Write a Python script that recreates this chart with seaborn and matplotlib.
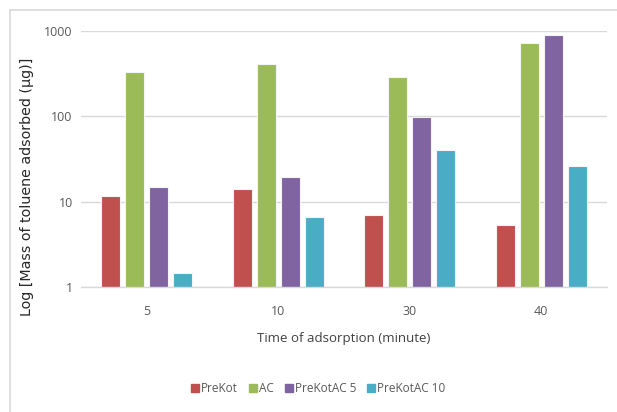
import matplotlib
matplotlib.use("Agg")
import matplotlib.pyplot as plt
from matplotlib import font_manager
from matplotlib.lines import Line2D
from matplotlib.ticker import FixedLocator, FixedFormatter, NullLocator
import seaborn as sns
import pandas as pd

# Adsorption times (minutes) and toluene mass adsorbed (µg) per adsorbent
times = ["5", "10", "30", "40"]
series = ["PreKot", "AC", "PreKotAC 5", "PreKotAC 10"]
prekot = [11.5, 14.0, 6.9, 5.4]
ac = [330, 405, 290, 730]
prekotac5 = [15.0, 19.5, 97, 900]
prekotac10 = [1.46, 6.6, 40, 26.5]
y_ticks = [1, 10, 100, 1000]
y_tick_labels = ["1", "10", "100", "1000"]

colors = ["#C0504D", "#9BBB59", "#8064A2", "#4BACC6"]

rows = []
for name, vals in zip(series, [prekot, ac, prekotac5, prekotac10]):
    for t, v in zip(times, vals):
        rows.append({"time": t, "series": name, "mass": v})
df = pd.DataFrame(rows)

sns.set_style("white")

installed = {f.name for f in font_manager.fontManager.ttflist}
narrow = next((f for f in ["Liberation Sans Narrow", "Open Sans", "Lato", "Roboto"]
               if f in installed), "DejaVu Sans")
plt.rcParams["font.family"] = [narrow, "DejaVu Sans"]

fig = plt.figure(figsize=(6.17, 4.12), dpi=100)
ax = fig.add_axes([81 / 617, 1 - 287 / 412, 526 / 617, 256 / 412])

sns.barplot(data=df, x="time", y="mass", hue="series", order=times,
            hue_order=series, palette=colors, width=0.73, gap=0.2,
            edgecolor="#f4f4f4", linewidth=0.8, ax=ax, legend=False,
            saturation=1)

ax.set_yscale("log")
ax.set_ylim(1, 1000)
ax.yaxis.set_major_locator(FixedLocator(y_ticks))
ax.yaxis.set_major_formatter(FixedFormatter(y_tick_labels))
ax.yaxis.set_minor_locator(NullLocator())
ax.set_xlim(-0.5, len(times) - 0.5)

ax.grid(axis="y", color="#d9d9d9", linewidth=1)
ax.set_axisbelow(True)
for side in ["top", "right", "left"]:
    ax.spines[side].set_visible(False)
ax.spines["bottom"].set_color("#d9d9d9")
ax.spines["bottom"].set_linewidth(1)

ax.tick_params(axis="both", length=0, labelsize=9, colors="#595959", pad=6)
ax.tick_params(axis="x", pad=13)
ax.set_xlabel("Time of adsorption (minute)", fontsize=9.5, color="#404040",
              labelpad=10)
ax.set_ylabel("Log [Mass of toluene adsorbed (\u03bcg)]", fontsize=10.3,
              color="#262626", family="DejaVu Sans")
ax.yaxis.set_label_coords(-(81 - 34) / 526, 0.39)

handles = [Line2D([0], [0], marker="s", linestyle="", markersize=5.5,
                  markerfacecolor=c, markeredgecolor=c) for c in colors]
fig.legend(handles, series, loc="center", bbox_to_anchor=(317 / 617, 1 - 389 / 412),
           ncol=4, frameon=False, fontsize=8.5, handletextpad=0.0,
           columnspacing=0.8, labelcolor="#595959", handlelength=1.0)

# chart frame lines
fig.add_artist(Line2D([9.5 / 617, 9.5 / 617], [0, 1 - 10 / 412],
                      color="#d9d9d9", linewidth=1.2))
fig.add_artist(Line2D([9.5 / 617, 1], [1 - 10 / 412, 1 - 10 / 412],
                      color="#d9d9d9", linewidth=1.2))

fig.savefig("out.png", dpi=100, facecolor="white")
